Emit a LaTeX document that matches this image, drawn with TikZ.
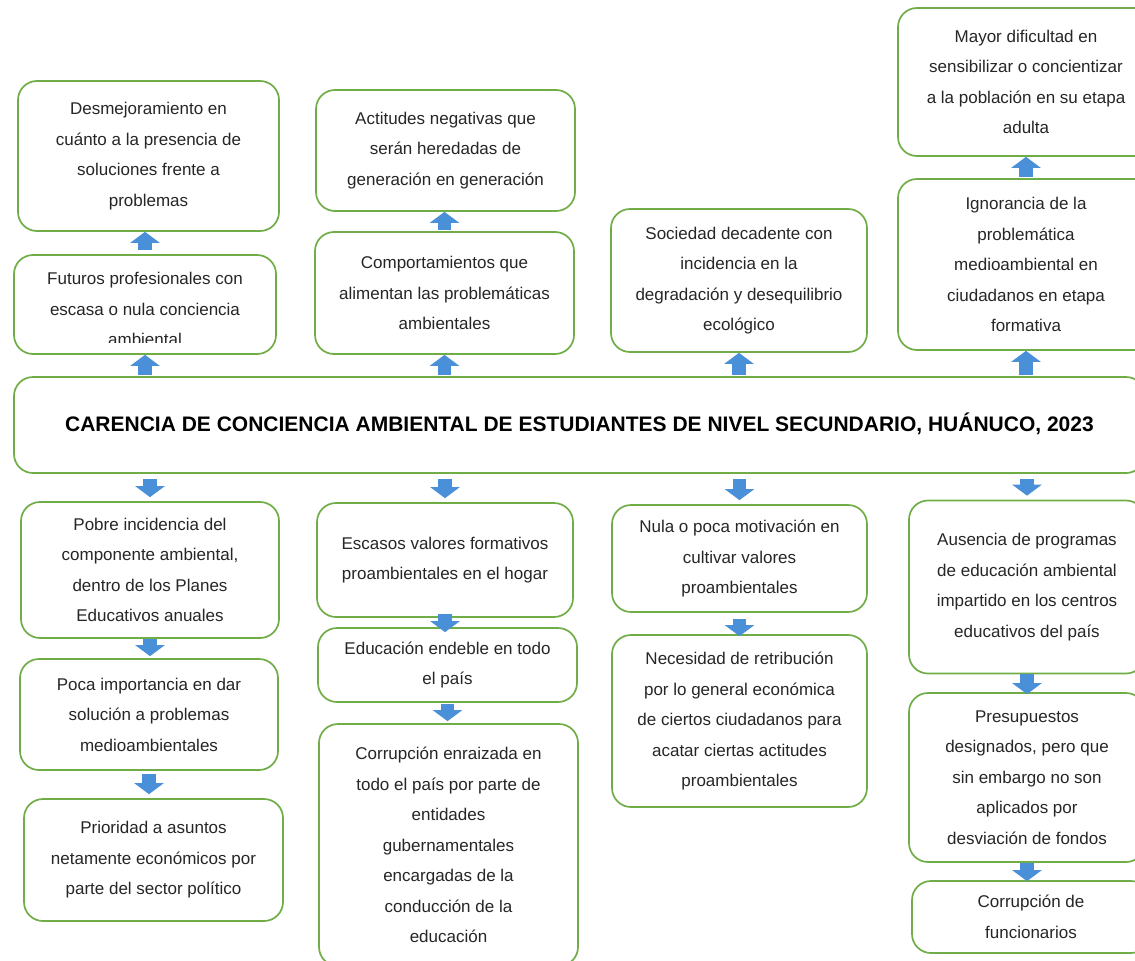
\documentclass[tikz,border=0pt]{standalone}
\usepackage{fontspec}
\setmainfont{Liberation Sans}
\usetikzlibrary{arrows.meta}
\definecolor{verde}{HTML}{70AD47}
\definecolor{azul}{HTML}{4A90D9}
\definecolor{texto}{HTML}{262626}

\begin{document}
\begin{tikzpicture}[x=1pt,y=-1pt,
    caja/.style={draw=verde, line width=1.7pt, rounded corners=19pt, fill=white,
                 align=center, inner sep=0pt, text=texto,
                 font=\fontsize{17}{30.5}\selectfont},
    flecha/.style={azul, line width=13.5pt, -{Triangle[width=29pt,length=11pt]}}]
        % On fixe le cadre de l'image (pixels de la référence)
        \clip (0,0) rectangle (1135,961);
        \fill[white] (0,0) rectangle (1135,961);

        % Problema central
        \node[caja, minimum width=1131pt, minimum height=96pt, font=\fontsize{21}{24}\selectfont\bfseries, text=black]
            (main) at (579.5,425) {\raisebox{6pt}{CARENCIA DE CONCIENCIA AMBIENTAL DE ESTUDIANTES DE NIVEL SECUNDARIO, HUÁNUCO, 2023}};

        % Efectos (parte superior)
        \node[caja, minimum width=261pt, minimum height=150pt] (desm) at (148.5,156)
            {Desmejoramiento en\\cuánto a la presencia de\\soluciones frente a\\problemas};
        \node[caja, minimum width=262pt, minimum height=99pt] (fut) at (145,304.5) {};
        \begin{scope}
            % le texte dépasse la boîte : on le coupe
            \clip (14,255) rectangle (276,342.5);
            \node[caja, draw=none, fill=none] (futtxt) at (145,309)
                {Futuros profesionales con\\escasa o nula conciencia\\ambiental};
        \end{scope}
        \node[caja, minimum width=259pt, minimum height=121pt] (act) at (445.5,150.5)
            {Actitudes negativas que\\serán heredadas de\\generación en generación};
        \node[caja, minimum width=259pt, minimum height=122pt] (comp) at (444.5,293)
            {Comportamientos que\\alimentan las problemáticas\\ambientales};
        \node[caja, minimum width=256pt, minimum height=143pt] (soc) at (739,280.5)
            {Sociedad decadente con\\incidencia en la\\degradación y desequilibrio\\ecológico};
        \node[caja, minimum width=256pt, minimum height=148pt] (mayor) at (1026,82)
            {Mayor dificultad en\\sensibilizar o concientizar\\a la población en su etapa\\adulta};
        \node[caja, minimum width=256pt, minimum height=171pt] (ign) at (1026,264.5)
            {Ignorancia de la\\problemática\\medioambiental en\\ciudadanos en etapa\\formativa};

        % Causas (parte inferior)
        \node[caja, minimum width=258pt, minimum height=136pt] (pob) at (150,570)
            {Pobre incidencia del\\componente ambiental,\\dentro de los Planes\\Educativos anuales};
        \node[caja, minimum width=258pt, minimum height=111pt] (poca) at (149,714.5)
            {Poca importancia en dar\\solución a problemas\\medioambientales};
        \node[caja, minimum width=259pt, minimum height=122pt] (prio) at (153.5,860)
            {Prioridad a asuntos\\netamente económicos por\\parte del sector político};
        \node[caja, minimum width=256pt, minimum height=114pt] (esc) at (445,560)
            {Escasos valores formativos\\proambientales en el hogar};
        \node[caja, minimum width=259pt, minimum height=74pt] (edu) at (447.5,665)
            {Educación endeble en todo\\el país};
        \node[caja, minimum width=259pt, minimum height=242pt] (corr) at (448.5,845)
            {Corrupción enraizada en\\todo el país por parte de\\entidades\\gubernamentales\\encargadas de la\\conducción de la\\educación};
        \node[caja, minimum width=255pt, minimum height=107pt] (nula) at (739.5,558.5)
            {Nula o poca motivación en\\cultivar valores\\proambientales};
        \node[caja, minimum width=255pt, minimum height=172pt] (nec) at (739.5,721)
            {Necesidad de retribución\\por lo general económica\\de ciertos ciudadanos para\\acatar ciertas actitudes\\proambientales};
        \node[caja, minimum width=236pt, minimum height=173pt] (aus) at (1027,587)
            {Ausencia de programas\\de educación ambiental\\impartido en los centros\\educativos del país};
        \node[caja, minimum width=236pt, minimum height=169pt] (pres) at (1027,777.5)
            {Presupuestos\\designados, pero que\\sin embargo no son\\aplicados por\\desviación de fondos};
        \node[caja, minimum width=238pt, minimum height=72pt] (fcorr) at (1031,917)
            {Corrupción de\\funcionarios};

        % Flèches vers le haut
        \draw[flecha, shorten <=1pt] (main.north -| fut.south) -- (fut.south);
        \draw[flecha, shorten <=4pt] (fut.north) -- (fut.north |- desm.south);
        \draw[flecha, shorten <=1pt] (main.north -| comp.south) -- (comp.south);
        \draw[flecha, shorten <=1pt] (comp.north) -- (comp.north |- act.south);
        \draw[flecha, shorten <=1pt] (main.north -| soc.south) -- (soc.south);
        \draw[flecha, shorten <=1pt] (main.north -| ign.south) -- (ign.south);
        \draw[flecha, shorten <=1pt] (ign.north) -- (ign.north |- mayor.south);

        % Flèches vers le bas
        \draw[flecha, shorten <=5pt, shorten >=4pt] (main.south -| pob.north) -- (pob.north);
        \draw[flecha, shorten <=5pt, shorten >=4pt] (main.south -| esc.north) -- (esc.north);
        \draw[flecha, shorten <=5pt, shorten >=4pt] (main.south -| nula.north) -- (nula.north);
        \draw[flecha, shorten <=5pt, shorten >=4pt] (main.south -| aus.north) -- (aus.north);
        \draw[flecha, shorten >=2pt] (pob.south) -- (pob.south |- poca.north);
        \draw[flecha, shorten <=3pt, shorten >=4pt] (poca.south) -- (poca.south |- prio.north);
        \draw[flecha, shorten <=-4pt, shorten >=-5pt] (esc.south) -- (esc.south |- edu.north);
        \draw[flecha, shorten <=1pt, shorten >=2pt] (edu.south) -- (edu.south |- corr.north);
        \draw[flecha, shorten <=6pt, shorten >=-2pt] (nula.south) -- (nula.south |- nec.north);
        \draw[flecha, shorten >=-2pt] (aus.south) -- (aus.south |- pres.north);
        \draw[flecha, shorten >=-1pt] (pres.south) -- (pres.south |- fcorr.north);
\end{tikzpicture}
\end{document}
